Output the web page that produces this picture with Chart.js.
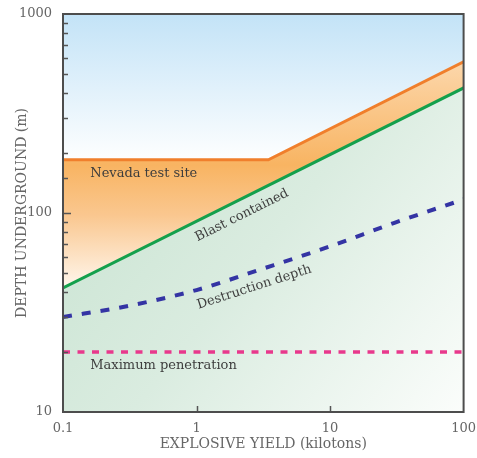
<!DOCTYPE html>
<html>
<head>
<meta charset="utf-8">
<script src="https://cdn.jsdelivr.net/npm/chart.js@4.4.1/dist/chart.umd.min.js"></script>
<style>
  html, body { margin: 0; padding: 0; background: #fff; }
</style>
</head>
<body>
<canvas id="depthChart" width="477" height="458"></canvas>
<script>
// values (depth in m, yield in kilotons)
const nevadaYield = [0.1, 3.45, 100];
const nevadaDepth = [185, 185, 575];
const blastYield = [0.1, 100];
const blastDepth = [42, 425];
const destructionYield = [0.1, 0.3, 1, 3, 10, 30, 100];
const destructionDepth = [30, 34, 41, 52, 68, 89, 117];
const penetrationYield = [0.1, 100];
const penetrationDepth = [20, 20];
const yieldTicks = [0.1, 1, 10, 100];
const depthTicks = [10, 100, 1000];

const serif = 'DejaVu Serif';

function toPoints(xs, ys) {
    return xs.map((x, i) => ({ x: x, y: ys[i] }));
}

function isListed(v, list) {
    return list.some(t => Math.abs(v / t - 1) < 1e-6);
}

// point on a drawn line at a given yield, plus the local angle
function pointOnLine(chart, index, xVal) {
    const pts = chart.getDatasetMeta(index).data;
    const px = chart.scales.x.getPixelForValue(xVal);
    for (let i = 0; i < pts.length - 1; i++) {
        const a = pts[i], b = pts[i + 1];
        if (px >= a.x && px <= b.x) {
            const t = (px - a.x) / (b.x - a.x);
            return { x: px, y: a.y + t * (b.y - a.y), angle: Math.atan2(b.y - a.y, b.x - a.x) };
        }
    }
    return null;
}

const areaLabels = {
    id: 'areaLabels',
    beforeDraw(chart) {
        const { ctx, chartArea: a } = chart;
        const sky = ctx.createLinearGradient(0, a.top, 0, a.top + 150);
        sky.addColorStop(0, '#c3e3f7');
        sky.addColorStop(1, '#ffffff');
        ctx.save();
        ctx.fillStyle = sky;
        ctx.fillRect(a.left, a.top, a.right - a.left, a.bottom - a.top);
        ctx.restore();
    },
    afterDatasetsDraw(chart) {
        const { ctx, chartArea: a, scales } = chart;
        ctx.save();

        // inward ticks
        ctx.strokeStyle = '#555';
        ctx.lineWidth = 1.5;
        ctx.beginPath();
        scales.y.ticks.forEach(t => {
            if (t.value <= 10 || t.value >= 1000) return;
            const y = Math.round(scales.y.getPixelForValue(t.value)) + 0.5;
            const len = isListed(t.value, depthTicks) ? 8 : 5;
            ctx.moveTo(a.left, y);
            ctx.lineTo(a.left + len, y);
        });
        yieldTicks.forEach(v => {
            if (v <= 0.1 || v >= 100) return;
            const x = Math.round(scales.x.getPixelForValue(v)) + 0.5;
            ctx.moveTo(x, a.bottom);
            ctx.lineTo(x, a.bottom - 6);
        });
        ctx.stroke();

        // frame
        ctx.strokeStyle = '#4d4d4d';
        ctx.lineWidth = 2;
        ctx.strokeRect(a.left, a.top, a.right - a.left, a.bottom - a.top);

        // labels in the plot
        ctx.fillStyle = '#3d3d3d';
        ctx.font = '13px "' + serif + '"';
        ctx.textBaseline = 'middle';
        ctx.textAlign = 'left';
        ctx.fillText('Nevada test site', scales.x.getPixelForValue(0.16), scales.y.getPixelForValue(nevadaDepth[0]) + 14);
        ctx.fillText('Maximum penetration', scales.x.getPixelForValue(0.16), scales.y.getPixelForValue(penetrationDepth[0]) + 14);

        const slanted = [
            { text: 'Blast contained', index: 1, at: 1.95, offset: 15 },
            { text: 'Destruction depth', index: 2, at: 2.5, offset: 15 }
        ];
        ctx.textAlign = 'center';
        slanted.forEach(l => {
            const p = pointOnLine(chart, l.index, l.at);
            if (!p) return;
            ctx.save();
            ctx.translate(p.x, p.y);
            ctx.rotate(p.angle);
            ctx.fillText(l.text, 0, l.offset);
            ctx.restore();
        });
        ctx.restore();
    }
};

const orangeFill = (context) => {
    const a = context.chart.chartArea;
    if (!a) return 'rgba(248,176,90,0.6)';
    const g = context.chart.ctx.createLinearGradient(0, a.top, 0, a.bottom);
    const at = y => Math.min(1, Math.max(0, (y - a.top) / (a.bottom - a.top)));
    g.addColorStop(at(60), '#fcd8ad');
    g.addColorStop(at(165), '#f8b462');
    g.addColorStop(at(215), '#fac78f');
    g.addColorStop(at(292), '#fff9f2');
    return g;
};

const greenFill = (context) => {
    const a = context.chart.chartArea;
    if (!a) return 'rgba(200,227,208,0.8)';
    const g = context.chart.ctx.createLinearGradient(a.left, a.top + 74, a.right, a.bottom);
    g.addColorStop(0, '#c6e2cf');
    g.addColorStop(0.5, '#daece0');
    g.addColorStop(1, '#fbfdfb');
    return g;
};

const depthChart = new Chart(document.getElementById('depthChart'), {
    type: 'line',
    data: {
        datasets: [
            {
                label: 'Nevada test site',
                data: toPoints(nevadaYield, nevadaDepth),
                borderColor: '#f07f2c',
                borderWidth: 3,
                backgroundColor: orangeFill,
                fill: 1,
                pointRadius: 0
            },
            {
                label: 'Blast contained',
                data: toPoints(blastYield, blastDepth),
                borderColor: '#14a04c',
                borderWidth: 3,
                backgroundColor: greenFill,
                fill: 'start',
                pointRadius: 0
            },
            {
                label: 'Destruction depth',
                data: toPoints(destructionYield, destructionDepth),
                borderColor: '#3434a4',
                borderWidth: 4,
                borderDash: [9, 10],
                fill: false,
                cubicInterpolationMode: 'monotone',
                pointRadius: 0
            },
            {
                label: 'Maximum penetration',
                data: toPoints(penetrationYield, penetrationDepth),
                borderColor: '#e8388c',
                borderWidth: 3.5,
                borderDash: [7, 7.5],
                fill: false,
                pointRadius: 0
            }
        ]
    },
    options: {
        responsive: false,
        animation: false,
        layout: { padding: { top: 14, right: 10, bottom: 0, left: 0 } },
        scales: {
            x: {
                type: 'logarithmic',
                position: 'bottom',
                min: 0.1,
                max: 100,
                grid: { display: false },
                border: { display: false },
                ticks: {
                    autoSkip: false,
                    maxRotation: 0,
                    padding: 1,
                    color: '#666',
                    font: { family: serif, size: 13 },
                    callback: v => isListed(v, yieldTicks) ? String(v) : ''
                },
                title: {
                    display: true,
                    text: 'EXPLOSIVE YIELD (kilotons)',
                    color: '#666',
                    font: { family: serif, size: 14 },
                    padding: { top: 0, bottom: 5 }
                },
                afterFit: s => { s.height = 46; }
            },
            y: {
                type: 'logarithmic',
                position: 'left',
                min: 10,
                max: 1000,
                grid: { display: false },
                border: { display: false },
                ticks: {
                    autoSkip: false,
                    padding: 3,
                    color: '#666',
                    font: { family: serif, size: 13 },
                    callback: v => isListed(v, depthTicks) ? String(v) : ''
                },
                title: {
                    display: true,
                    text: 'DEPTH UNDERGROUND (m)',
                    color: '#666',
                    font: { family: serif, size: 14 },
                    padding: { top: 14, bottom: 0 }
                },
                afterFit: s => { s.width = 63; }
            }
        },
        plugins: {
            legend: { display: false },
            tooltip: { enabled: false },
            filler: { drawTime: 'beforeDatasetsDraw' }
        }
    },
    plugins: [areaLabels]
});
</script>
</body>
</html>
